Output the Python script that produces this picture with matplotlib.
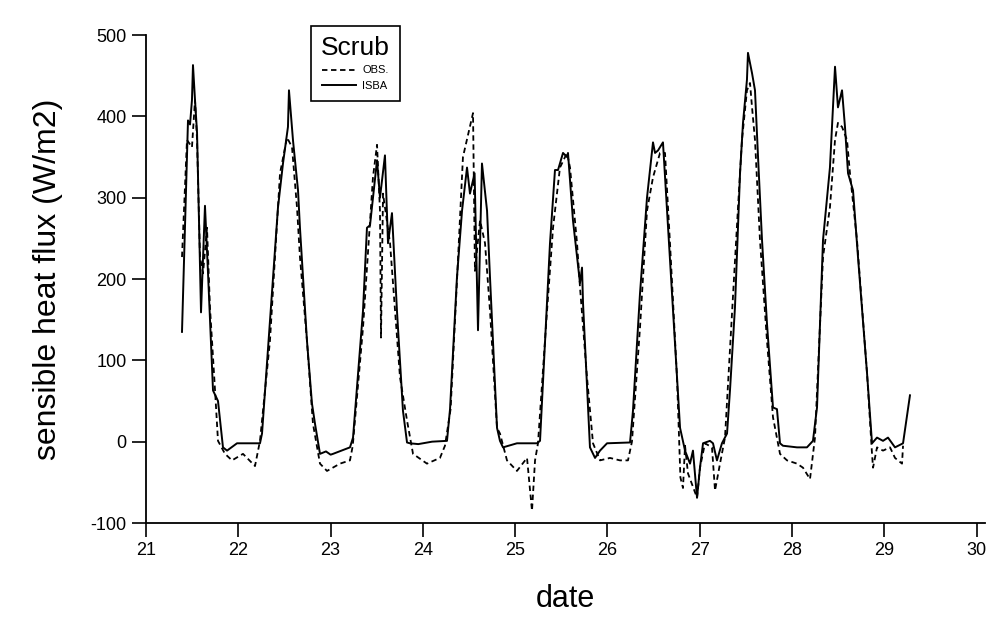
import numpy as np
import matplotlib
matplotlib.use("Agg")
import matplotlib.pyplot as plt

plt.rcParams['font.family'] = ['Liberation Sans', 'DejaVu Sans']
plt.rcParams['axes.unicode_minus'] = False

# ISBA model (solid line): date, sensible heat flux (W/m2)
t_isba = [21.390, 21.455, 21.477, 21.498, 21.509, 21.531, 21.553, 21.596, 21.639, 21.672,
          21.726, 21.780, 21.834, 21.878, 21.986, 22.235, 22.257, 22.430, 22.484, 22.538,
          22.549, 22.593, 22.647, 22.668, 22.744, 22.798, 22.831, 22.885, 22.950, 23.000,
          23.026, 23.210, 23.243, 23.351, 23.394, 23.427, 23.503, 23.535, 23.589, 23.622,
          23.665, 23.719, 23.784, 23.828, 23.860, 23.950, 24.100, 24.261, 24.294, 24.369,
          24.424, 24.478, 24.510, 24.560, 24.597, 24.640, 24.695, 24.727, 24.803, 24.835,
          24.868, 25.019, 25.236, 25.269, 25.377, 25.431, 25.464, 25.518, 25.561, 25.572,
          25.626, 25.702, 25.724, 25.735, 25.810, 25.865, 25.919, 25.995, 26.244, 26.276,
          26.352, 26.428, 26.493, 26.515, 26.547, 26.601, 26.645, 26.710, 26.786, 26.840,
          26.894, 26.926, 26.970, 27.002, 27.035, 27.110, 27.143, 27.186, 27.240, 27.295,
          27.327, 27.381, 27.436, 27.468, 27.511, 27.522, 27.566, 27.598, 27.631, 27.674,
          27.728, 27.793, 27.836, 27.869, 27.901, 28.053, 28.161, 28.226, 28.270, 28.335,
          28.410, 28.443, 28.465, 28.497, 28.541, 28.573, 28.606, 28.660, 28.714, 28.812,
          28.866, 28.920, 28.985, 29.039, 29.115, 29.202, 29.277]
isba = [135, 395, 390, 420, 463, 420, 380, 159, 290, 207,
        63, 50, -7, -11, -2, -2, 10, 288, 342, 387,
        432, 370, 309, 263, 124, 47, 22, -15, -12, -16,
        -15, -7, 5, 161, 263, 266, 346, 300, 352, 244,
        281, 161, 38, -1, -2, -3, 0, 1, 40, 202,
        284, 337, 305, 330, 137, 342, 284, 202, 17, 1,
        -7, -2, -2, 1, 244, 334, 334, 355, 350, 355,
        272, 195, 214, 170, -7, -20, -11, -2, -1, 38,
        182, 300, 368, 355, 358, 368, 284, 161, 17, -11,
        -27, -11, -69, -32, -2, 1, -2, -23, -2, 10,
        63, 165, 330, 392, 445, 478, 453, 432, 350, 248,
        145, 42, 40, -2, -5, -7, -7, 1, 42, 248,
        337, 411, 461, 411, 432, 387, 330, 309, 227, 84,
        -2, 5, 1, 5, -7, -2, 57]

# observations (dashed line)
t_obs = [21.390, 21.444, 21.498, 21.531, 21.553, 21.585, 21.618, 21.661, 21.693, 21.748,
         21.780, 21.856, 21.932, 22.051, 22.181, 22.235, 22.343, 22.452, 22.528, 22.582,
         22.636, 22.668, 22.744, 22.809, 22.885, 22.961, 23.102, 23.210, 23.240, 23.351,
         23.459, 23.503, 23.535, 23.546, 23.568, 23.644, 23.752, 23.828, 23.893, 24.044,
         24.185, 24.239, 24.300, 24.370, 24.434, 24.543, 24.564, 24.619, 24.673, 24.727,
         24.803, 24.835, 24.911, 25.019, 25.128, 25.182, 25.215, 25.247, 25.345, 25.410,
         25.485, 25.561, 25.594, 25.670, 25.702, 25.778, 25.843, 25.919, 26.027, 26.135,
         26.222, 26.265, 26.352, 26.428, 26.493, 26.569, 26.623, 26.677, 26.753, 26.790,
         26.818, 26.840, 26.872, 26.970, 27.002, 27.056, 27.132, 27.165, 27.219, 27.273,
         27.414, 27.457, 27.511, 27.544, 27.566, 27.598, 27.652, 27.728, 27.793, 27.869,
         27.945, 28.053, 28.118, 28.194, 28.248, 28.335, 28.410, 28.465, 28.497, 28.541,
         28.595, 28.627, 28.703, 28.812, 28.866, 28.877, 28.920, 28.985, 29.061, 29.115,
         29.191, 29.202]
obs = [227, 371, 362, 420, 371, 227, 207, 263, 165, 63,
       1, -15, -23, -15, -30, 1, 124, 330, 374, 362,
       288, 227, 124, 22, -27, -36, -27, -23, -5, 140,
       325, 365, 284, 128, 305, 244, 79, 26, -15, -27,
       -20, -5, 40, 200, 350, 404, 210, 272, 244, 161,
       17, 10, -23, -36, -20, -85, -23, -2, 161, 263,
       337, 355, 337, 244, 190, 79, -2, -23, -20, -23,
       -23, 0, 140, 284, 325, 355, 355, 244, 79, -44,
       -57, -5, -39, -69, -32, -2, -7, -60, -27, 5,
       288, 371, 432, 441, 411, 371, 248, 124, 30, -15,
       -23, -27, -32, -46, 5, 227, 288, 371, 392, 387,
       371, 330, 248, 84, -15, -32, -7, -11, -7, -20,
       -27, -5]

xticks = [21, 22, 23, 24, 25, 26, 27, 28, 29, 30]
yticks = [-100, 0, 100, 200, 300, 400, 500]

fig = plt.figure(figsize=(9.97, 6.25), dpi=100)
ax = fig.add_axes([146 / 997, (625 - 523) / 625, (985 - 146) / 997, (523 - 35) / 625])

ax.plot(t_obs, obs, color='black', lw=1.3, linestyle=(0, (3, 2)), label='OBS.')
ax.plot(t_isba, isba, color='black', lw=1.4, label='ISBA')

ax.set_xlim(21, 30.09)
ax.set_ylim(-100, 500)
ax.set_xticks(xticks)
ax.set_yticks(yticks)
ax.tick_params(direction='out', length=10, width=1.2, labelsize=13, pad=4)
for s in ['top', 'right']:
    ax.spines[s].set_visible(False)
for s in ['left', 'bottom']:
    ax.spines[s].set_linewidth(1.3)

ax.set_xlabel('date', fontsize=22, labelpad=18)
ax.set_ylabel('sensible heat flux (W/m2)', fontsize=23, labelpad=20)

leg = ax.legend(loc='upper left', bbox_to_anchor=(0.19, 1.03), title='Scrub',
                fontsize=8, title_fontsize=19, frameon=True, fancybox=False,
                edgecolor='black', handlelength=3.0, borderpad=0.9, labelspacing=0.5,
                handletextpad=0.6)
leg.get_frame().set_linewidth(1.2)
leg.get_frame().set_facecolor('white')
leg.get_frame().set_alpha(1)

fig.savefig('out.png', dpi=100)
